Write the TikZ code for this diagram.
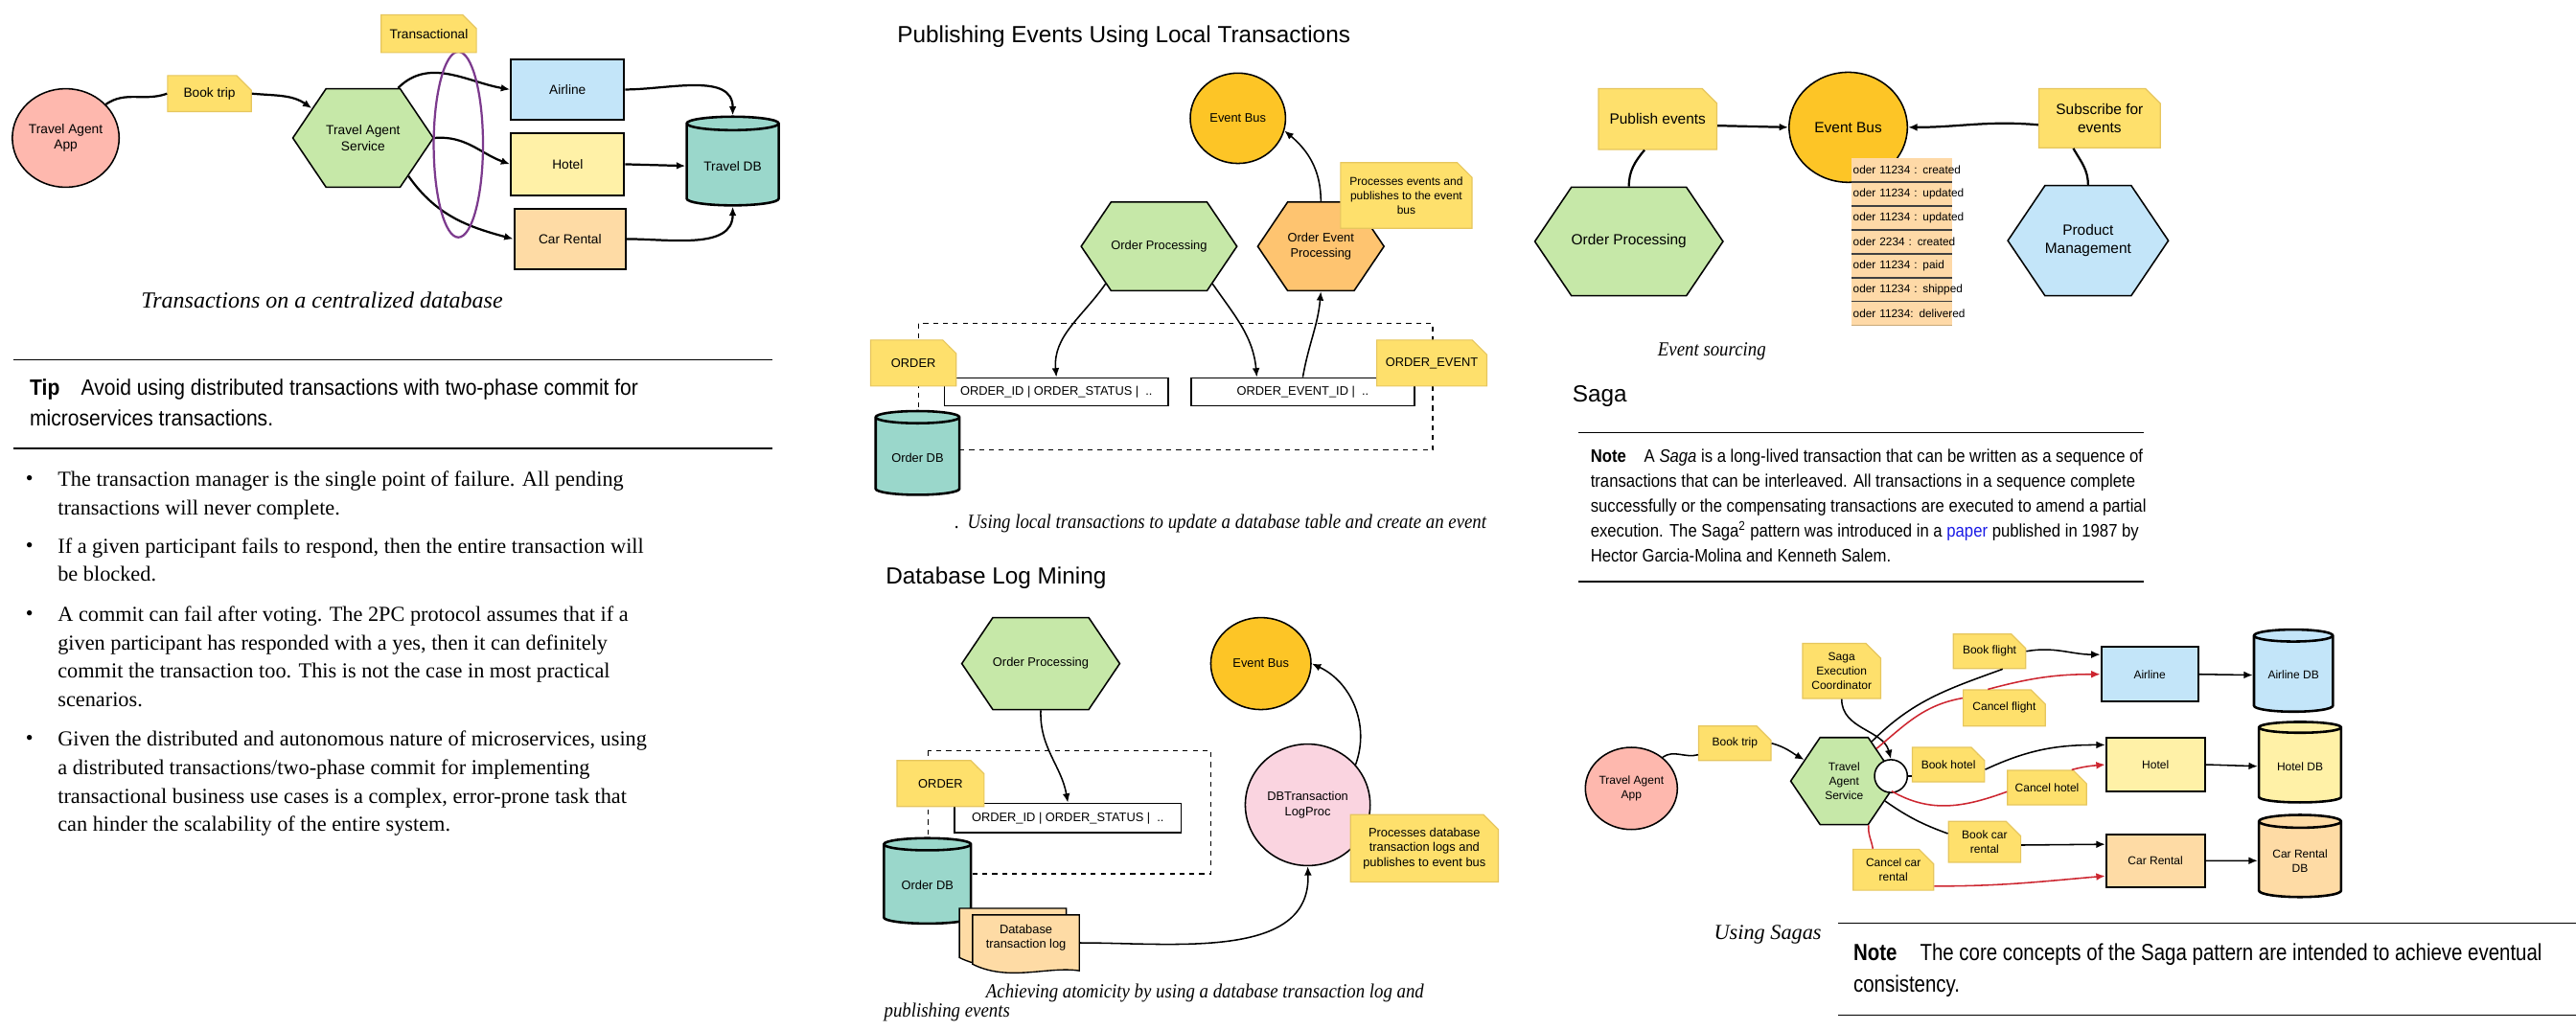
\documentclass[tikz,border=0pt]{standalone}
\usepackage{fontspec}
\setmainfont{Liberation Serif}
\newfontfamily\lblfont{Liberation Sans}
\newfontfamily\narrowsans[FakeStretch=0.84]{Liberation Sans}
\newfontfamily\tipsans[FakeStretch=0.91]{Liberation Sans}
\newfontfamily\notesans[FakeStretch=0.885]{Liberation Sans}
\newfontfamily\capfont[FakeStretch=0.9]{Liberation Serif}
\usetikzlibrary{arrows.meta,positioning,shapes.geometric,shapes.misc,shapes.symbols}
\definecolor{apppink}{HTML}{FEB8AE}
\definecolor{hexgreen}{HTML}{C6E8A8}
\definecolor{airblue}{HTML}{C3E5F9}
\definecolor{hotelyellow}{HTML}{FFF1A7}
\definecolor{carorange}{HTML}{FEDBA5}
\definecolor{dbteal}{HTML}{9AD7CB}
\definecolor{busyellow}{HTML}{FDC526}
\definecolor{oeporange}{HTML}{FEC470}
\definecolor{logpink}{HTML}{FAD4E0}
\definecolor{noteyellow}{HTML}{FEE06C}
\definecolor{noteedge}{HTML}{E6C65E}
\definecolor{notefold}{HTML}{D9BC56}
\definecolor{rowtan}{HTML}{FED9A7}
\definecolor{rowedge}{HTML}{C8A877}
\definecolor{cancelred}{HTML}{CD2630}
\definecolor{txpurple}{HTML}{7C3A8D}
\definecolor{linkblue}{HTML}{1A1AE6}

\begin{document}
\begin{tikzpicture}[x=1pt,y=1pt,>={Latex[length=5.5pt,width=4.5pt]},
  lbl/.style={font=\lblfont\fontsize{8}{9.6}\selectfont,align=center,inner sep=1pt},
  sz7/.style={font=\lblfont\fontsize{7}{8.8}\selectfont},
  sz75/.style={font=\lblfont\fontsize{7.5}{9}\selectfont},
  sz9/.style={font=\lblfont\fontsize{9}{11}\selectfont},
  note/.style={lbl,chamfered rectangle,chamfered rectangle corners=north east,
    chamfered rectangle xsep=4.5pt,chamfered rectangle ysep=4.5pt,
    fill=noteyellow,draw=noteedge,line width=.7pt,
    path picture={\fill[notefold] ([xshift=-4.5pt]path picture bounding box.north east)
      -- ([yshift=-4.5pt]path picture bounding box.north east)
      -- ([xshift=-4.5pt,yshift=-4.5pt]path picture bounding box.north east) -- cycle;}},
  hexa/.style={lbl,signal,signal to=east and west,signal pointer angle=112,
    draw,line width=.9pt,fill=hexgreen,inner sep=0pt},
  box/.style={lbl,rectangle,draw,line width=1.1pt},
  db/.style={lbl,cylinder,shape border rotate=90,aspect=.22,draw,line width=1.5pt},
  bus/.style={lbl,ellipse,draw,line width=.9pt,fill=busyellow,inner sep=0pt},
  tbl/.style={lbl,sz75,rectangle,draw,line width=.8pt,fill=white},
  evrow/.style={rectangle,fill=rowtan,minimum height=14.57,text width=59,inner xsep=1pt,
    inner ysep=0pt,align=left,font=\lblfont\fontsize{6.9}{8}\selectfont},
  title/.style={font=\lblfont\fontsize{14.2}{16}\selectfont,inner sep=0pt},
  capt/.style={font=\capfont\itshape\fontsize{12.2}{11.7}\selectfont,inner sep=0pt,align=left},
  bigcapt/.style={font=\itshape\fontsize{#1}{12}\selectfont,inner sep=0pt},
  tiptext/.style={font=\tipsans\fontsize{13.5}{19}\selectfont,align=left,inner sep=0pt},
  bullet/.style={font=\fontsize{13}{17.3}\selectfont,align=left,inner sep=0pt},
  notetext/.style={font=\notesans\fontsize{11}{15.1}\selectfont,align=left,inner sep=0pt},
  rule/.style={line width=.8pt},
  wire/.style={line width=1.3pt},
  thinwire/.style={line width=.9pt},
  cancelwire/.style={line width=.9pt,draw=cancelred}]
  \useasboundingbox (0,0) rectangle (1568,-627);

  \node[bus,fill=apppink,minimum width=65,minimum height=60] (app1) at (40,-84) {Travel Agent\\App};
  \node[note,minimum width=51,minimum height=22] (trip1) at (127.5,-57) {Book trip};
  \node[hexa,minimum width=81,minimum height=60] (tas1) at (221,-84) {Travel Agent\\Service};
  \node[box,fill=airblue,minimum width=69,minimum height=37] (air1) at (345.5,-54.5) {Airline};
  \node[box,fill=hotelyellow,minimum width=69,minimum height=38] (hotel1) at (345.5,-100) {Hotel};
  \node[box,fill=carorange,minimum width=68,minimum height=37] (car1) at (347,-145.5) {Car Rental};
  \node[db,fill=dbteal,minimum width=56,minimum height=54] (tdb1) at (446,-101) {Travel DB};

  \draw[wire] (app1.40) to[out=35,in=200] (trip1.west);
  \draw[wire,->] (trip1.east) to[out=-5,in=145] (tas1.150);
  \draw[wire,->] (tas1.55) to[out=45,in=170] (air1.west);
  \draw[wire,->] (tas1.east) to[out=5,in=160] (hotel1.west);
  \draw[wire,->] (tas1.-40) to[out=-55,in=165] (car1.west);
  \draw[wire,->] (air1.east) to[out=0,in=90] (tdb1.north);
  \draw[wire,->] (hotel1.east) -- (tdb1.west);
  \draw[wire,->] (car1.east) to[out=0,in=-90] (tdb1.south);

  \node[ellipse,draw=txpurple,line width=1.3pt,minimum width=30,minimum height=113] (scope1) at (279,-88) {};
  \node[note,minimum width=58,minimum height=23] (txn1) at (261,-20.5) {Transactional};
  \node[bigcapt=14] (cap1) at (196,-183) {Transactions on a centralized database};

  \draw[rule] (8,-219) -- (470,-219);
  \node[tiptext,anchor=north west] (tip) at (18,-230.5) {\textbf{Tip}\hspace{13pt}Avoid using distributed transactions with two-phase commit for\\microservices transactions.};
  \draw[rule] (8,-273) -- (470,-273);

  \foreach \y [count=\i] in {295.5,336.3,377.8,453.8}
    \node[font=\fontsize{13}{14}\selectfont,inner sep=0pt,anchor=base] (dot\i) at (18,-\y) {\textbullet};
  \node[bullet,anchor=north west] (pt1) at (35,-286.6) {The transaction manager is the single point of failure. All pending\\transactions will never complete.};
  \node[bullet,anchor=north west] (pt2) at (35,-327.4) {If a given participant fails to respond, then the entire transaction will\\be blocked.};
  \node[bullet,anchor=north west] (pt3) at (35,-368.9) {A commit can fail after voting. The 2PC protocol assumes that if a\\given participant has responded with a yes, then it can definitely\\commit the transaction too. This is not the case in most practical\\scenarios.};
  \node[bullet,anchor=north west] (pt4) at (35,-444.9) {Given the distributed and autonomous nature of microservices, using\\a distributed transactions/two-phase commit for implementing\\transactional business use cases is a complex, error-prone task that\\can hinder the scalability of the entire system.};

  \node[title,anchor=west] (t2) at (546,-22) {Publishing Events Using Local Transactions};
  \node[bus,sz75,minimum width=58,minimum height=55] (bus2) at (753.5,-72) {Event Bus};
  \node[hexa,sz75,minimum width=73,minimum height=54] (op2) at (705.5,-150) {Order Processing};
  \node[hexa,sz75,fill=oeporange,minimum width=74,minimum height=54] (oep2) at (804,-150) {Order Event\\Processing};
  \node[note,sz7,minimum width=80,minimum height=40] (n2) at (856,-119) {Processes events and\\publishes to the event\\bus};
  \draw[thinwire,dashed] (559,-197) rectangle (872,-274);
  \node[tbl,minimum width=136,minimum height=17] (ord2) at (643,-238.5) {ORDER\_ID | ORDER\_STATUS |~ ..};
  \node[tbl,minimum width=136,minimum height=17] (evt2) at (793,-238.5) {ORDER\_EVENT\_ID |~ ..};
  \node[note,sz75,minimum width=52,minimum height=28] (ordn2) at (556,-221) {ORDER};
  \node[note,sz75,minimum width=65,minimum height=28] (evn2) at (871.5,-221) {ORDER\_EVENT};
  \node[db,sz75,fill=dbteal,minimum width=51,minimum height=51] (odb2) at (558.5,-278.5) {Order DB};
  \draw[thinwire,->] (op2.215) to[out=-125,in=95] (ord2.north);
  \draw[thinwire,->] (op2.-35) to[out=-55,in=95] ([xshift=-28]evt2.north);
  \draw[thinwire,->] (evt2.north) to[out=80,in=-95] (oep2.south);
  \draw[thinwire,->] (oep2.north) to[out=90,in=-40] (bus2.-15);
  \node[capt] (cap2) at (743,-319) {.\hspace{5pt}Using local transactions to update a database table and create an event};

  \node[title,anchor=west] (t3) at (539,-352) {Database Log Mining};
  \node[hexa,sz75,minimum width=75,minimum height=56] (op3) at (633.5,-404) {Order Processing};
  \node[bus,sz75,minimum width=61,minimum height=56] (bus3) at (767.5,-404) {Event Bus};
  \draw[thinwire,dashed] (565,-457) rectangle (737,-532);
  \node[tbl,minimum width=138,minimum height=18] (ord3) at (650,-498) {ORDER\_ID | ORDER\_STATUS |~ ..};
  \node[note,sz75,minimum width=53,minimum height=28] (ordn3) at (572.5,-477) {ORDER};
  \node[db,sz75,fill=dbteal,minimum width=53,minimum height=52] (odb3) at (564.5,-539) {Order DB};
  \filldraw[fill=carorange,line width=.8pt] (584,-553) -- (649,-553) -- (649,-587)
    .. controls (630,-584) and (606,-594) .. (584,-583) -- cycle;
  \filldraw[fill=carorange,line width=.8pt] (592,-557) -- (657,-557) -- (657,-591)
    .. controls (638,-588) and (614,-598) .. (592,-587) -- cycle;
  \node[lbl,sz75,minimum width=65,minimum height=30] (tlog3) at (624.5,-571) {Database\\transaction log};
  \node[bus,sz75,fill=logpink,minimum width=76,minimum height=74] (lp3) at (796,-490) {DBTransaction\\LogProc};
  \node[note,sz75,minimum width=90,minimum height=41] (n3) at (867,-516.5) {Processes database\\transaction logs and\\publishes to event bus};
  \draw[thinwire,->] (op3.south) to[out=-92,in=100] (ord3.north);
  \draw[thinwire,->] ([yshift=-3]tlog3.east) to[out=0,in=-88] (lp3.south);
  \draw[thinwire,->] (lp3.40) to[out=70,in=-25] (bus3.east);
  \node[capt,anchor=north west] (cap3) at (538,-599) {\hspace*{62pt}Achieving atomicity by using a database transaction log and\\publishing events};

  \node[note,sz9,minimum width=72,minimum height=37] (pub4) at (1009,-72.5) {Publish events};
  \node[bus,sz9,minimum width=72,minimum height=67] (bus4) at (1125,-77.5) {Event Bus};
  \foreach \ev [count=\i] in {oder 11234 : created,oder 11234 : updated,oder 11234 : updated,oder 2234 : created,oder 11234 : paid,oder 11234 : shipped,oder 11234: delivered}
    \node[evrow] (ev\i) at (1157.5,{-103.3-14.57*(\i-1)}) {\mbox{\ev}};
  \foreach \i in {1,...,6}
    \draw[line width=.8pt,draw=black!75] (ev\i.south west) -- (ev\i.south east);
  \draw[line width=.8pt,draw=rowedge] (ev7.south west) -- (ev7.south east);
  \node[hexa,sz9,minimum width=89,minimum height=66] (op4) at (991.5,-147) {Order Processing};
  \node[note,sz9,minimum width=74,minimum height=36] (sub4) at (1278,-72) {Subscribe for\\events};
  \node[hexa,sz9,fill=airblue,minimum width=90,minimum height=67] (pm4) at (1271,-146.5) {Product\\Management};
  \draw[wire] (op4.north) to[out=90,in=-130] ([xshift=-8]pub4.south);
  \draw[wire,->] ([yshift=-4]pub4.east) -- (bus4.west);
  \draw[wire,->] ([yshift=-4]sub4.west) to[out=175,in=0] (bus4.east);
  \draw[wire] (pm4.north) to[out=90,in=-60] ([xshift=-16]sub4.south);
  \node[capt] (cap4) at (1042,-214) {Event sourcing};

  \node[title,anchor=west] (t5) at (957,-241) {Saga};
  \draw[rule] (961,-263.5) -- (1305,-263.5);
  \node[notetext,anchor=north west] (saga5) at (968,-273.5) {\textbf{Note}\hspace{11pt}A \textit{Saga} is a long-lived transaction that can be written as a sequence of\\transactions that can be interleaved. All transactions in a sequence complete\\successfully or the compensating transactions are executed to amend a partial\\execution. The Saga\textsuperscript{2} pattern was introduced in a \textcolor{linkblue}{paper} published in 1987 by\\Hector Garcia-Molina and Kenneth Salem.};
  \draw[rule] (961,-354) -- (1305,-354);

  \node[bus,sz7,fill=apppink,minimum width=56,minimum height=50] (app6) at (993,-480) {Travel Agent\\App};
  \node[note,sz7,minimum width=44,minimum height=21] (trip6) at (1056,-452.5) {Book trip};
  \node[hexa,sz7,minimum width=65,minimum height=53] (tas6) at (1122.5,-475.5) {Travel\\Agent\\Service};
  \node[note,sz7,minimum width=44,minimum height=31] (sec6) at (1121,-408.5) {Saga\\Execution\\Coordinator};
  \node[circle,draw,fill=white,line width=.9pt,minimum size=20,inner sep=0pt] (hub6) at (1151,-472.5) {};
  \node[note,sz7,minimum width=44,minimum height=21] (bf6) at (1211,-396.5) {Book flight};
  \node[note,sz7,minimum width=50,minimum height=22] (cf6) at (1220,-431) {Cancel flight};
  \node[box,sz7,fill=airblue,minimum width=59,minimum height=33] (air6) at (1308.5,-410.5) {Airline};
  \node[db,sz7,fill=airblue,minimum width=48,minimum height=50] (airdb6) at (1396,-411) {Airline DB};
  \node[note,sz7,minimum width=44,minimum height=21] (bh6) at (1186,-465.5) {Book hotel};
  \node[note,sz7,minimum width=48,minimum height=21] (ch6) at (1246,-479.5) {Cancel hotel};
  \node[box,sz7,fill=hotelyellow,minimum width=60,minimum height=33] (hotel6) at (1312,-465.5) {Hotel};
  \node[db,sz7,fill=hotelyellow,minimum width=50,minimum height=49] (hoteldb6) at (1400,-466.5) {Hotel DB};
  \node[note,sz7,minimum width=44,minimum height=21] (bc6) at (1208,-512.5) {Book car\\rental};
  \node[note,sz7,minimum width=49,minimum height=21] (cc6) at (1152.5,-529.5) {Cancel car\\rental};
  \node[box,sz7,fill=carorange,minimum width=60,minimum height=32] (car6) at (1312,-524) {Car Rental};
  \node[db,sz7,fill=carorange,minimum width=50,minimum height=50] (cardb6) at (1400,-524) {Car Rental\\DB};

  \draw[thinwire] (app6.45) to[out=35,in=195] ([yshift=-7]trip6.west);
  \draw[thinwire,->] (trip6.east) to[out=-15,in=150] (tas6.152);
  \draw[thinwire,->] (sec6.south) to[out=-90,in=105] (hub6.north);
  \draw[thinwire] (tas6.55) to[out=45,in=-160] ([xshift=8]bf6.south);
  \draw[thinwire,->] (bf6.east) to[out=10,in=180] ([yshift=12]air6.west);
  \draw[cancelwire] (tas6.45) to[out=40,in=-170] ([yshift=6]cf6.west);
  \draw[cancelwire,->] ([xshift=-10]cf6.north) to[out=15,in=180] (air6.west);
  \draw[thinwire] (hub6.east) -- (hub6.east -| bh6.west);
  \draw[thinwire,->] ([yshift=-3]bh6.east) to[out=25,in=180] ([yshift=12]hotel6.west);
  \draw[cancelwire] (tas6.-12) to[out=-30,in=-160] ([yshift=-2.5]ch6.west);
  \draw[cancelwire,->] ([xshift=15]ch6.north) to[out=15,in=185] (hotel6.west);
  \draw[thinwire] (tas6.-26) to[out=-35,in=160] ([yshift=5]bc6.west);
  \draw[thinwire,->] ([yshift=-2]bc6.east) -- ([yshift=10]car6.west);
  \draw[cancelwire] (tas6.-61) to[out=-95,in=100] ([xshift=-12.5]cc6.north);
  \draw[cancelwire,->] ([yshift=-10]cc6.east) to[out=0,in=185] ([yshift=-9.3]car6.west);
  \draw[thinwire,->] (air6.east) -- (airdb6.west);
  \draw[thinwire,->] (hotel6.east) -- (hoteldb6.west);
  \draw[thinwire,->] (car6.east) -- (cardb6.west);

  \node[bigcapt=13] (cap6) at (1076,-569) {Using Sagas};
  \draw[rule] (1119,-562) -- (1568,-562);
  \node[notetext,font=\narrowsans\fontsize{14.2}{19.5}\selectfont,anchor=north west] (final) at (1128,-574) {\textbf{Note}\hspace{14pt}The core concepts of the Saga pattern are intended to achieve eventual\\consistency.};
  \draw[rule] (1119,-618) -- (1568,-618);
\end{tikzpicture}
\end{document}
